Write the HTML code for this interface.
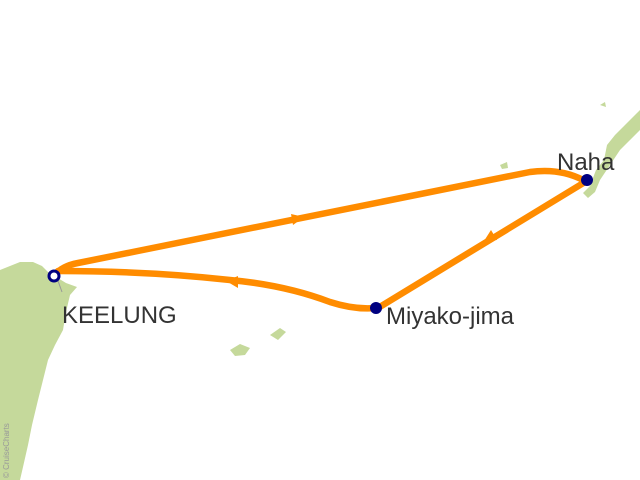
<!DOCTYPE html>
<html><head><style>body{margin:0;background:#fff}svg{display:block}</style></head><body>
<svg width="640" height="480" viewBox="0 0 640 480" xmlns="http://www.w3.org/2000/svg">
<rect width="640" height="480" fill="#fff"/>
<g fill="#c5d99b">
<path d="M0,270 L20,262 L33,262 L42,266 L48,272 L66,283 L77,287 L70,295 L66,312 L63,330 L55,345 L48,360 L43,380 L38,400 L32,425 L28,445 L23,467 L20,480 L0,480 Z"/>
<path d="M583,193 L590,186 L596,170 L604,160 L607,145 L615,135 L625,125 L637,113 L640,110 L640,130 L630,140 L620,150 L610,165 L600,180 L595,192 L588,198 Z"/>
<path d="M230,350 L240,344 L250,348 L245,355 L235,356 Z"/>
<path d="M270,335 L280,328 L286,332 L278,340 Z"/>
<path d="M500,165 L507,162 L508,168 L502,169 Z"/>
<path d="M600,105 L605,102 L606,107 Z"/>
</g>
<g fill="none" stroke="#ff8c00" stroke-width="6.5" stroke-linecap="round" stroke-linejoin="round">
<path d="M55,275 Q62,266 78,263 L530,172 Q560,168 583,180"/>
<path d="M585,182 L378,308"/>
<path d="M376,308 Q355,310 330,302 Q285,285 230,280 Q150,271 58,271"/>
</g>
<g fill="#ff8c00">
<polygon points="304,217 291,214 293,225"/>
<polygon points="484,241 497,240 491,230"/>
<polygon points="226,281 238,276 238,288"/>
</g>
<line x1="57" y1="278" x2="62" y2="292" stroke="#999" stroke-width="1"/>
<circle cx="54" cy="276" r="5" fill="#fff" stroke="#000080" stroke-width="3"/>
<circle cx="587" cy="180" r="6" fill="#000080"/>
<circle cx="376" cy="308" r="6" fill="#000080"/>
<g font-family="Liberation Sans, sans-serif" fill="#333" font-size="24">
<text x="62" y="323">KEELUNG</text>
<text x="557" y="170">Naha</text>
<text x="386" y="324">Miyako-jima</text>
</g>
<text x="9" y="478" font-family="Liberation Sans, sans-serif" font-size="8" fill="#999" transform="rotate(-90 9 478)">© CruiseCharts</text>
</svg>
</body></html>
